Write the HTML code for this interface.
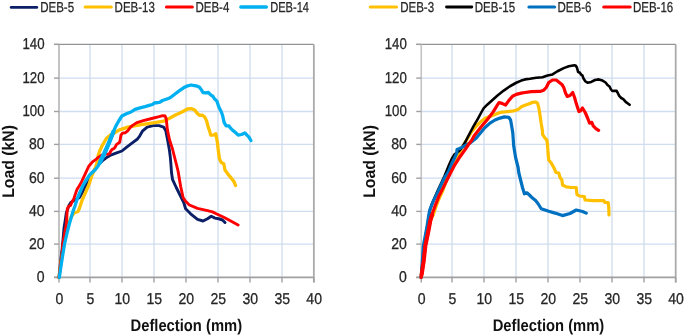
<!DOCTYPE html>
<html><head><meta charset="utf-8"><style>
html,body{margin:0;padding:0;background:#fff;}
body{width:685px;height:336px;overflow:hidden;}
svg{display:block;text-rendering:geometricPrecision;filter:blur(0.35px);}
.tl{font-family:"Liberation Sans",sans-serif;font-size:15.6px;fill:#262626;stroke:#262626;stroke-width:0.3px;}
.at{font-family:"Liberation Sans",sans-serif;font-size:16.8px;font-weight:bold;fill:#111;}
.lg{font-family:"Liberation Sans",sans-serif;font-size:14.4px;fill:#262626;stroke:#262626;stroke-width:0.25px;}
</style></head><body>
<svg width="685" height="336" viewBox="0 0 685 336">
<line x1="90.00" y1="44.40" x2="90.00" y2="277.40" stroke="#d0dcef" stroke-width="1.3"/>
<line x1="122.00" y1="44.40" x2="122.00" y2="277.40" stroke="#d0dcef" stroke-width="1.3"/>
<line x1="154.00" y1="44.40" x2="154.00" y2="277.40" stroke="#d0dcef" stroke-width="1.3"/>
<line x1="186.00" y1="44.40" x2="186.00" y2="277.40" stroke="#d0dcef" stroke-width="1.3"/>
<line x1="218.00" y1="44.40" x2="218.00" y2="277.40" stroke="#d0dcef" stroke-width="1.3"/>
<line x1="250.00" y1="44.40" x2="250.00" y2="277.40" stroke="#d0dcef" stroke-width="1.3"/>
<line x1="282.00" y1="44.40" x2="282.00" y2="277.40" stroke="#d0dcef" stroke-width="1.3"/>
<line x1="59.00" y1="244.10" x2="313.85" y2="244.10" stroke="#d0dcef" stroke-width="1.3"/>
<line x1="59.00" y1="211.40" x2="313.85" y2="211.40" stroke="#d0dcef" stroke-width="1.3"/>
<line x1="59.00" y1="178.20" x2="313.85" y2="178.20" stroke="#d0dcef" stroke-width="1.3"/>
<line x1="59.00" y1="144.40" x2="313.85" y2="144.40" stroke="#d0dcef" stroke-width="1.3"/>
<line x1="59.00" y1="111.50" x2="313.85" y2="111.50" stroke="#d0dcef" stroke-width="1.3"/>
<line x1="59.00" y1="78.10" x2="313.85" y2="78.10" stroke="#d0dcef" stroke-width="1.3"/>
<line x1="54.00" y1="44.40" x2="313.85" y2="44.40" stroke="#939393" stroke-width="1.4"/>
<line x1="313.85" y1="44.40" x2="313.85" y2="282.40" stroke="#aaaaaa" stroke-width="1.8"/>
<line x1="59.00" y1="44.40" x2="59.00" y2="277.40" stroke="#b4b4b4" stroke-width="1.6"/>
<line x1="54.00" y1="277.40" x2="59.00" y2="277.40" stroke="#a0a0a0" stroke-width="1.4"/>
<line x1="54.00" y1="244.10" x2="59.00" y2="244.10" stroke="#a0a0a0" stroke-width="1.4"/>
<line x1="54.00" y1="211.40" x2="59.00" y2="211.40" stroke="#a0a0a0" stroke-width="1.4"/>
<line x1="54.00" y1="178.20" x2="59.00" y2="178.20" stroke="#a0a0a0" stroke-width="1.4"/>
<line x1="54.00" y1="144.40" x2="59.00" y2="144.40" stroke="#a0a0a0" stroke-width="1.4"/>
<line x1="54.00" y1="111.50" x2="59.00" y2="111.50" stroke="#a0a0a0" stroke-width="1.4"/>
<line x1="54.00" y1="78.10" x2="59.00" y2="78.10" stroke="#a0a0a0" stroke-width="1.4"/>
<line x1="54.00" y1="44.40" x2="59.00" y2="44.40" stroke="#a0a0a0" stroke-width="1.4"/>
<line x1="54.00" y1="277.40" x2="313.85" y2="277.40" stroke="#a0a0a0" stroke-width="1.6"/>
<line x1="59.00" y1="277.40" x2="59.00" y2="282.40" stroke="#a0a0a0" stroke-width="1.4"/>
<line x1="90.00" y1="277.40" x2="90.00" y2="282.40" stroke="#a0a0a0" stroke-width="1.4"/>
<line x1="122.00" y1="277.40" x2="122.00" y2="282.40" stroke="#a0a0a0" stroke-width="1.4"/>
<line x1="154.00" y1="277.40" x2="154.00" y2="282.40" stroke="#a0a0a0" stroke-width="1.4"/>
<line x1="186.00" y1="277.40" x2="186.00" y2="282.40" stroke="#a0a0a0" stroke-width="1.4"/>
<line x1="218.00" y1="277.40" x2="218.00" y2="282.40" stroke="#a0a0a0" stroke-width="1.4"/>
<line x1="250.00" y1="277.40" x2="250.00" y2="282.40" stroke="#a0a0a0" stroke-width="1.4"/>
<line x1="282.00" y1="277.40" x2="282.00" y2="282.40" stroke="#a0a0a0" stroke-width="1.4"/>
<line x1="313.85" y1="277.40" x2="313.85" y2="282.40" stroke="#a0a0a0" stroke-width="1.4"/>
<text transform="translate(44.60,282.10) scale(0.9,1)" class="tl" text-anchor="end">0</text>
<text transform="translate(44.60,248.80) scale(0.9,1)" class="tl" text-anchor="end">20</text>
<text transform="translate(44.60,216.10) scale(0.9,1)" class="tl" text-anchor="end">40</text>
<text transform="translate(44.60,182.90) scale(0.9,1)" class="tl" text-anchor="end">60</text>
<text transform="translate(44.60,149.10) scale(0.9,1)" class="tl" text-anchor="end">80</text>
<text transform="translate(44.60,116.20) scale(0.85,1)" class="tl" text-anchor="end">100</text>
<text transform="translate(44.60,82.80) scale(0.85,1)" class="tl" text-anchor="end">120</text>
<text transform="translate(44.60,49.10) scale(0.85,1)" class="tl" text-anchor="end">140</text>
<text transform="translate(59.30,304.40) scale(0.9,1)" class="tl" text-anchor="middle">0</text>
<text transform="translate(90.30,304.40) scale(0.9,1)" class="tl" text-anchor="middle">5</text>
<text transform="translate(122.30,304.40) scale(0.9,1)" class="tl" text-anchor="middle">10</text>
<text transform="translate(154.30,304.40) scale(0.9,1)" class="tl" text-anchor="middle">15</text>
<text transform="translate(186.30,304.40) scale(0.9,1)" class="tl" text-anchor="middle">20</text>
<text transform="translate(218.30,304.40) scale(0.9,1)" class="tl" text-anchor="middle">25</text>
<text transform="translate(250.30,304.40) scale(0.9,1)" class="tl" text-anchor="middle">30</text>
<text transform="translate(282.30,304.40) scale(0.9,1)" class="tl" text-anchor="middle">35</text>
<text transform="translate(314.15,304.40) scale(0.9,1)" class="tl" text-anchor="middle">40</text>
<text transform="translate(186.30,331.0) scale(0.88,1)" class="at" text-anchor="middle">Deflection (mm)</text>
<text transform="translate(13.90,161.4) rotate(-90) scale(0.94,1)" class="at" text-anchor="middle">Load (kN)</text>
<polyline points="59.00,277.50 60.50,262.00 62.00,250.00 63.00,240.00 64.00,228.00 65.30,220.00 66.30,213.00 69.00,205.50 70.80,202.50 74.00,200.50 79.60,197.40 84.00,189.50 87.40,182.10 92.00,173.00 97.50,165.60 102.50,160.60 107.50,156.90 110.00,155.40 116.00,153.20 121.90,151.00 126.40,147.30 132.30,142.80 137.50,139.00 139.80,135.80 142.70,130.80 147.20,127.10 153.20,125.60 159.10,125.60 163.60,127.10 165.80,130.80 167.60,140.00 169.40,150.00 170.30,157.00 170.90,164.00 171.50,172.50 172.50,179.40 176.25,187.50 181.25,197.50 183.75,202.50 185.60,208.75 189.40,212.50 191.25,214.40 197.50,219.40 203.10,221.00 207.50,218.75 211.25,216.25 215.00,218.10 218.75,218.75 222.50,220.00 225.00,222.50" fill="none" stroke="#0b1f66" stroke-width="2.9" stroke-linejoin="round" stroke-linecap="round"/>
<polyline points="59.00,277.50 61.00,262.00 63.00,250.00 65.50,237.00 67.50,227.00 69.50,221.00 71.50,216.50 74.00,213.00 78.00,211.50 79.50,208.00 81.80,201.00 86.40,190.30 88.40,186.00 89.40,183.30 92.10,175.00 95.00,168.75 97.50,161.25 98.10,155.50 99.50,151.50 102.00,146.00 106.30,138.50 111.00,134.50 113.00,133.80 118.90,130.10 127.90,127.10 139.80,124.90 154.60,122.60 163.60,121.20 169.50,118.20 175.00,115.20 182.50,111.75 187.50,109.00 191.25,108.60 195.00,110.25 196.90,113.00 199.40,115.25 202.50,115.25 204.70,117.00 206.70,121.10 208.00,126.40 209.40,130.40 210.70,135.10 213.40,135.10 215.80,133.80 216.70,138.50 217.50,143.00 218.10,148.75 219.40,158.75 221.25,162.50 223.75,163.75 225.00,170.00 228.10,174.40 231.25,178.10 233.75,181.25 235.60,185.60" fill="none" stroke="#ffc000" stroke-width="3.3" stroke-linejoin="round" stroke-linecap="round"/>
<polyline points="59.00,277.50 60.50,266.00 62.00,255.00 62.80,244.00 64.50,234.00 66.20,225.00 66.70,219.00 67.00,214.00 67.30,209.00 68.50,206.50 70.50,205.40 72.30,201.20 73.60,199.50 75.10,194.90 76.90,189.60 79.20,186.00 81.40,182.10 85.00,174.40 88.75,166.25 92.50,161.90 96.00,159.30 98.10,157.50 100.30,156.10 103.00,154.60 106.00,153.90 108.10,154.30 109.90,153.20 110.60,151.40 112.10,149.30 113.90,148.60 115.30,146.80 116.40,144.60 118.10,143.40 119.70,142.30 120.30,139.00 121.00,135.00 122.75,133.10 125.40,132.70 127.70,130.90 129.40,128.70 130.80,126.90 132.30,125.60 136.80,122.60 144.20,120.40 151.70,118.50 159.10,116.70 162.80,115.70 165.10,116.00 166.25,118.90 167.30,129.30 169.50,139.80 172.50,149.00 175.60,161.25 178.10,171.25 180.60,186.25 183.10,197.50 185.60,201.25 189.40,205.00 197.50,208.40 207.50,210.60 212.50,211.90 216.25,213.75 223.75,217.20 231.25,221.25 238.10,225.00" fill="none" stroke="#ff0000" stroke-width="2.9" stroke-linejoin="round" stroke-linecap="round"/>
<polyline points="59.30,277.50 61.00,266.00 62.70,255.00 64.50,244.00 66.80,234.00 69.30,224.00 71.60,216.00 73.30,210.50 75.10,205.60 77.70,197.50 80.50,191.00 82.70,186.00 85.00,182.00 90.00,174.40 95.00,170.00 98.10,166.00 101.50,159.00 104.50,153.00 107.00,147.50 109.30,142.00 111.20,137.30 113.50,131.50 115.70,126.40 119.00,120.50 121.90,116.00 126.40,113.70 131.00,112.00 135.00,109.30 140.00,107.80 145.00,106.60 150.00,105.20 152.50,104.50 154.30,103.00 159.50,102.40 162.50,100.50 169.20,98.20 171.40,96.80 175.00,94.00 179.50,90.60 183.90,87.60 186.90,86.20 191.00,85.00 194.30,85.60 197.30,86.20 199.50,87.30 201.40,89.90 202.90,92.50 205.50,92.80 208.50,92.50 210.00,94.30 211.40,95.40 212.90,96.20 214.40,98.80 216.90,101.10 218.75,106.75 221.25,111.75 222.60,115.50 224.10,122.40 226.10,125.80 228.80,125.80 230.80,128.40 232.80,130.40 235.50,132.50 238.20,135.10 241.50,134.50 244.90,132.90 246.90,135.10 248.90,137.10 250.90,140.50" fill="none" stroke="#00b0f0" stroke-width="3.3" stroke-linejoin="round" stroke-linecap="round"/>
<polyline points="100.00,162.50 101.50,159.00 104.50,153.00 107.00,147.50 109.30,142.00 111.20,137.30 113.30,132.00" fill="none" stroke="#00b0f0" stroke-width="4.4" stroke-linejoin="round" stroke-linecap="round"/>
<line x1="452.00" y1="44.40" x2="452.00" y2="277.40" stroke="#d0dcef" stroke-width="1.3"/>
<line x1="484.00" y1="44.40" x2="484.00" y2="277.40" stroke="#d0dcef" stroke-width="1.3"/>
<line x1="516.00" y1="44.40" x2="516.00" y2="277.40" stroke="#d0dcef" stroke-width="1.3"/>
<line x1="548.00" y1="44.40" x2="548.00" y2="277.40" stroke="#d0dcef" stroke-width="1.3"/>
<line x1="580.00" y1="44.40" x2="580.00" y2="277.40" stroke="#d0dcef" stroke-width="1.3"/>
<line x1="612.00" y1="44.40" x2="612.00" y2="277.40" stroke="#d0dcef" stroke-width="1.3"/>
<line x1="644.00" y1="44.40" x2="644.00" y2="277.40" stroke="#d0dcef" stroke-width="1.3"/>
<line x1="421.25" y1="244.10" x2="675.70" y2="244.10" stroke="#d0dcef" stroke-width="1.3"/>
<line x1="421.25" y1="211.40" x2="675.70" y2="211.40" stroke="#d0dcef" stroke-width="1.3"/>
<line x1="421.25" y1="178.20" x2="675.70" y2="178.20" stroke="#d0dcef" stroke-width="1.3"/>
<line x1="421.25" y1="144.40" x2="675.70" y2="144.40" stroke="#d0dcef" stroke-width="1.3"/>
<line x1="421.25" y1="111.50" x2="675.70" y2="111.50" stroke="#d0dcef" stroke-width="1.3"/>
<line x1="421.25" y1="78.10" x2="675.70" y2="78.10" stroke="#d0dcef" stroke-width="1.3"/>
<line x1="416.25" y1="44.40" x2="675.70" y2="44.40" stroke="#939393" stroke-width="1.4"/>
<line x1="675.70" y1="44.40" x2="675.70" y2="282.40" stroke="#aaaaaa" stroke-width="1.8"/>
<line x1="421.25" y1="44.40" x2="421.25" y2="277.40" stroke="#c4c4c4" stroke-width="1.6"/>
<line x1="416.25" y1="277.40" x2="421.25" y2="277.40" stroke="#a0a0a0" stroke-width="1.4"/>
<line x1="416.25" y1="244.10" x2="421.25" y2="244.10" stroke="#a0a0a0" stroke-width="1.4"/>
<line x1="416.25" y1="211.40" x2="421.25" y2="211.40" stroke="#a0a0a0" stroke-width="1.4"/>
<line x1="416.25" y1="178.20" x2="421.25" y2="178.20" stroke="#a0a0a0" stroke-width="1.4"/>
<line x1="416.25" y1="144.40" x2="421.25" y2="144.40" stroke="#a0a0a0" stroke-width="1.4"/>
<line x1="416.25" y1="111.50" x2="421.25" y2="111.50" stroke="#a0a0a0" stroke-width="1.4"/>
<line x1="416.25" y1="78.10" x2="421.25" y2="78.10" stroke="#a0a0a0" stroke-width="1.4"/>
<line x1="416.25" y1="44.40" x2="421.25" y2="44.40" stroke="#a0a0a0" stroke-width="1.4"/>
<line x1="416.25" y1="277.40" x2="675.70" y2="277.40" stroke="#a0a0a0" stroke-width="1.6"/>
<line x1="421.25" y1="277.40" x2="421.25" y2="282.40" stroke="#a0a0a0" stroke-width="1.4"/>
<line x1="452.00" y1="277.40" x2="452.00" y2="282.40" stroke="#a0a0a0" stroke-width="1.4"/>
<line x1="484.00" y1="277.40" x2="484.00" y2="282.40" stroke="#a0a0a0" stroke-width="1.4"/>
<line x1="516.00" y1="277.40" x2="516.00" y2="282.40" stroke="#a0a0a0" stroke-width="1.4"/>
<line x1="548.00" y1="277.40" x2="548.00" y2="282.40" stroke="#a0a0a0" stroke-width="1.4"/>
<line x1="580.00" y1="277.40" x2="580.00" y2="282.40" stroke="#a0a0a0" stroke-width="1.4"/>
<line x1="612.00" y1="277.40" x2="612.00" y2="282.40" stroke="#a0a0a0" stroke-width="1.4"/>
<line x1="644.00" y1="277.40" x2="644.00" y2="282.40" stroke="#a0a0a0" stroke-width="1.4"/>
<line x1="675.70" y1="277.40" x2="675.70" y2="282.40" stroke="#a0a0a0" stroke-width="1.4"/>
<text transform="translate(406.85,282.10) scale(0.9,1)" class="tl" text-anchor="end">0</text>
<text transform="translate(406.85,248.80) scale(0.9,1)" class="tl" text-anchor="end">20</text>
<text transform="translate(406.85,216.10) scale(0.9,1)" class="tl" text-anchor="end">40</text>
<text transform="translate(406.85,182.90) scale(0.9,1)" class="tl" text-anchor="end">60</text>
<text transform="translate(406.85,149.10) scale(0.9,1)" class="tl" text-anchor="end">80</text>
<text transform="translate(406.85,116.20) scale(0.85,1)" class="tl" text-anchor="end">100</text>
<text transform="translate(406.85,82.80) scale(0.85,1)" class="tl" text-anchor="end">120</text>
<text transform="translate(406.85,49.10) scale(0.85,1)" class="tl" text-anchor="end">140</text>
<text transform="translate(421.55,304.40) scale(0.9,1)" class="tl" text-anchor="middle">0</text>
<text transform="translate(452.30,304.40) scale(0.9,1)" class="tl" text-anchor="middle">5</text>
<text transform="translate(484.30,304.40) scale(0.9,1)" class="tl" text-anchor="middle">10</text>
<text transform="translate(516.30,304.40) scale(0.9,1)" class="tl" text-anchor="middle">15</text>
<text transform="translate(548.30,304.40) scale(0.9,1)" class="tl" text-anchor="middle">20</text>
<text transform="translate(580.30,304.40) scale(0.9,1)" class="tl" text-anchor="middle">25</text>
<text transform="translate(612.30,304.40) scale(0.9,1)" class="tl" text-anchor="middle">30</text>
<text transform="translate(644.30,304.40) scale(0.9,1)" class="tl" text-anchor="middle">35</text>
<text transform="translate(676.00,304.40) scale(0.9,1)" class="tl" text-anchor="middle">40</text>
<text transform="translate(548.50,331.0) scale(0.88,1)" class="at" text-anchor="middle">Deflection (mm)</text>
<text transform="translate(375.20,161.4) rotate(-90) scale(0.94,1)" class="at" text-anchor="middle">Load (kN)</text>
<polyline points="421.10,277.50 422.80,262.00 424.80,246.00 426.80,234.00 429.00,224.00 431.50,218.00 433.40,214.50 435.50,208.00 438.50,200.00 443.00,190.00 450.00,170.00 457.00,157.00 463.00,146.00 471.00,132.60 476.90,125.50 480.50,121.90 485.20,118.30 490.00,116.50 495.00,114.50 500.00,112.40 507.50,111.60 513.75,110.80 517.50,109.80 520.00,108.00 521.25,106.80 525.00,105.20 530.00,103.50 532.50,102.30 535.60,102.00 537.50,103.10 538.75,107.50 540.00,115.00 541.25,123.75 542.50,131.25 542.50,134.40 545.00,138.10 546.90,140.00 547.50,145.00 548.10,153.75 548.75,160.00 551.25,163.10 553.75,167.50 556.00,172.50 558.75,173.00 560.00,177.50 561.90,180.00 562.50,185.00 566.25,186.90 571.25,187.50 576.25,187.50 576.90,194.40 579.40,196.00 584.40,196.50 585.00,200.00 592.50,200.60 603.75,200.60 605.00,202.50 608.10,202.50 608.75,207.50 609.00,215.00" fill="none" stroke="#ffc000" stroke-width="3.2" stroke-linejoin="round" stroke-linecap="round"/>
<polyline points="421.10,277.50 422.50,262.00 424.30,246.00 426.30,232.00 428.30,220.00 429.80,211.00 431.50,205.00 434.50,198.00 438.00,190.00 441.50,182.50 444.50,176.00 447.00,170.00 449.20,164.50 451.70,159.00 454.60,154.30 458.80,151.30 462.00,147.50 465.00,142.50 468.60,135.50 473.30,126.70 478.10,118.30 481.25,112.50 483.75,108.10 487.50,104.40 492.50,100.00 497.50,95.60 503.75,90.60 510.00,86.25 516.25,82.75 521.25,80.60 525.00,79.40 530.00,78.75 536.25,77.75 542.50,77.25 547.50,75.60 552.50,74.40 557.50,71.25 563.75,68.10 568.75,66.25 574.40,65.25 575.60,65.50 576.90,67.50 578.10,72.00 580.00,72.80 581.00,74.50 582.50,75.60 583.50,78.50 585.50,81.50 587.50,82.70 591.25,81.90 595.00,80.00 598.75,79.40 602.50,80.60 605.60,82.50 607.50,85.00 609.50,86.50 611.00,89.50 612.30,91.00 614.50,90.70 616.60,90.90 617.80,93.00 619.20,95.90 621.25,98.00 623.30,99.10 625.90,102.20 627.50,103.20 629.60,104.80" fill="none" stroke="#000000" stroke-width="2.6" stroke-linejoin="round" stroke-linecap="round"/>
<polyline points="421.10,277.50 422.30,262.00 423.30,246.00 425.40,235.00 427.10,225.80 428.90,214.30 429.80,209.90 433.40,200.90 437.90,192.00 441.50,184.00 445.20,176.50 448.70,171.00 451.70,163.80 454.60,157.90 456.80,153.10 457.00,149.50 459.00,148.70 462.40,147.10 467.00,144.50 469.80,143.30 475.70,138.60 480.00,133.50 485.00,127.50 490.00,123.10 495.00,120.00 500.00,118.10 504.40,116.90 508.75,117.25 510.60,120.00 511.90,127.50 512.80,133.00 513.10,137.50 513.75,146.25 515.60,157.50 518.10,167.50 518.75,172.50 520.60,180.00 522.50,187.50 524.40,193.75 526.90,192.75 529.40,195.00 532.50,198.10 535.60,200.60 538.10,203.75 541.25,208.75 548.75,211.25 555.00,213.10 562.50,215.60 570.00,213.50 576.25,210.00 582.50,211.50 586.25,213.10" fill="none" stroke="#0070c0" stroke-width="3.2" stroke-linejoin="round" stroke-linecap="round"/>
<polyline points="421.10,277.50 423.50,262.00 425.40,244.80 427.10,237.00 428.70,229.00 430.20,220.60 432.80,212.30 435.40,205.00 438.80,196.40 443.60,186.90 449.50,175.00 454.00,166.20 460.00,156.70 466.00,148.30 468.50,144.50 471.90,140.00 474.00,136.00 481.40,126.50 487.60,119.20 493.00,112.10 496.25,106.90 499.00,102.50 502.50,103.60 505.60,105.00 508.75,100.60 512.50,96.25 516.25,94.40 521.25,93.10 525.00,92.50 531.25,91.60 540.00,91.40 543.75,90.20 546.25,87.50 548.75,82.50 552.50,80.00 556.25,80.00 558.75,81.90 561.90,84.40 563.75,87.50 565.50,92.90 567.30,96.40 570.00,95.50 572.70,92.50 574.50,97.30 576.25,103.60 578.90,111.60 580.70,110.70 582.50,108.00 585.20,112.50 587.90,118.75 589.60,123.20 591.80,122.30 593.20,125.90 595.90,128.60 598.60,130.40" fill="none" stroke="#ff0000" stroke-width="3.2" stroke-linejoin="round" stroke-linecap="round"/>
<polyline points="421.60,275.00 423.60,262.00 425.50,245.00 427.20,237.00 428.80,229.00 430.30,221.00 432.00,215.00" fill="none" stroke="#ff0000" stroke-width="4.0" stroke-linejoin="round" stroke-linecap="round"/>
<line x1="11.2" y1="7.4" x2="36.8" y2="7.4" stroke="#0b1f66" stroke-width="2.8" stroke-linecap="round"/>
<text transform="translate(40.2,11.9) scale(0.8,1)" class="lg">DEB-5</text>
<line x1="85.2" y1="7.0" x2="111.2" y2="7.0" stroke="#ffc000" stroke-width="3.2" stroke-linecap="round"/>
<text transform="translate(114.6,11.9) scale(0.8,1)" class="lg">DEB-13</text>
<line x1="166.5" y1="7.0" x2="192.3" y2="7.0" stroke="#ff0000" stroke-width="3.2" stroke-linecap="round"/>
<text transform="translate(195.4,11.9) scale(0.8,1)" class="lg">DEB-4</text>
<line x1="240.8" y1="7.0" x2="266.4" y2="7.0" stroke="#00b0f0" stroke-width="3.3" stroke-linecap="round"/>
<text transform="translate(270.2,11.9) scale(0.77,1)" class="lg">DEB-14</text>
<line x1="370.3" y1="7.0" x2="396.5" y2="7.0" stroke="#ffc000" stroke-width="3.2" stroke-linecap="round"/>
<text transform="translate(400.2,11.9) scale(0.8,1)" class="lg">DEB-3</text>
<line x1="446.5" y1="7.0" x2="471.8" y2="7.0" stroke="#000000" stroke-width="2.8" stroke-linecap="round"/>
<text transform="translate(474.8,11.9) scale(0.8,1)" class="lg">DEB-15</text>
<line x1="529" y1="7.0" x2="554.6" y2="7.0" stroke="#0070c0" stroke-width="3.2" stroke-linecap="round"/>
<text transform="translate(557.5,11.9) scale(0.8,1)" class="lg">DEB-6</text>
<line x1="603.8" y1="7.0" x2="630.1" y2="7.0" stroke="#ff0000" stroke-width="3.2" stroke-linecap="round"/>
<text transform="translate(632.9,11.9) scale(0.8,1)" class="lg">DEB-16</text>
</svg>
</body></html>
